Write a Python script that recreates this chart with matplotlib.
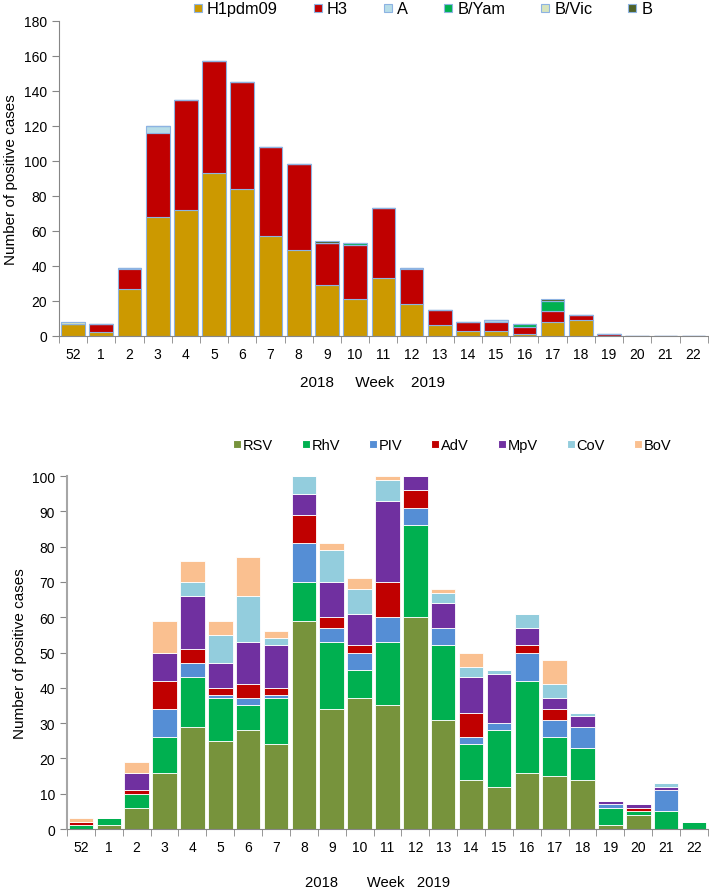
import matplotlib
matplotlib.use("Agg")
import matplotlib.pyplot as plt
import numpy as np
from matplotlib.lines import Line2D

weeks = ["52", "1", "2", "3", "4", "5", "6", "7", "8", "9", "10", "11",
         "12", "13", "14", "15", "16", "17", "18", "19", "20", "21", "22"]

# Influenza (top)
flu_names = ["H1pdm09", "H3", "A", "B/Yam", "B/Vic", "B"]
h1pdm09 = [7, 2, 27, 68, 72, 93, 84, 57, 49, 29, 21, 33, 18, 6, 3, 3, 1, 8, 9, 0, 0, 0, 0]
h3      = [0, 5, 11, 48, 63, 64, 61, 51, 49, 24, 31, 40, 20, 9, 5, 5, 4, 6, 3, 1, 0, 0, 0]
flu_a   = [0, 0, 1, 4, 0, 0, 0, 0, 0, 0, 0, 0, 1, 0, 0, 1, 0, 0, 0, 0, 0, 0, 0]
b_yam   = [0, 0, 0, 0, 0, 0, 0, 0, 0, 0, 1, 0, 0, 0, 0, 0, 2, 6, 0, 0, 0, 0, 0]
b_vic   = [1, 0, 0, 0, 0, 0, 0, 0, 0, 0, 0, 0, 0, 0, 0, 0, 0, 0, 0, 0, 0, 0, 0]
b_unk   = [0, 0, 0, 0, 0, 0, 0, 0, 0, 1, 0, 0, 0, 0, 0, 0, 0, 1, 0, 0, 0, 0, 0]
flu_colors = ["#cc9900", "#c00000", "#b7dde8", "#00b050", "#d7e4bd", "#4f6228"]

# Other respiratory viruses (bottom)
vir_names = ["RSV", "RhV", "PIV", "AdV", "MpV", "CoV", "BoV"]
rsv = [0, 1, 6, 16, 29, 25, 28, 24, 59, 34, 37, 35, 60, 31, 14, 12, 16, 15, 14, 1, 4, 0, 0]
rhv = [1, 2, 4, 10, 14, 12, 7, 13, 11, 19, 8, 18, 26, 21, 10, 16, 26, 11, 9, 5, 1, 5, 2]
piv = [0, 0, 0, 8, 4, 1, 2, 1, 11, 4, 5, 7, 5, 5, 2, 2, 8, 5, 6, 1, 0, 6, 0]
adv = [1, 0, 1, 8, 4, 2, 4, 2, 8, 3, 2, 10, 5, 0, 7, 0, 2, 3, 0, 0, 1, 0, 0]
mpv = [0, 0, 5, 8, 15, 7, 12, 12, 6, 10, 9, 23, 4, 7, 10, 14, 5, 3, 3, 1, 1, 1, 0]
cov = [0, 0, 0, 0, 4, 8, 13, 2, 5, 9, 7, 6, 0, 3, 3, 1, 4, 4, 1, 0, 0, 1, 0]
bov = [1, 0, 3, 9, 6, 4, 11, 2, 0, 2, 3, 1, 0, 1, 4, 0, 0, 7, 0, 0, 0, 0, 0]
vir_colors = ["#77933c", "#00b050", "#558ed5", "#c00000", "#7030a0", "#93cddd", "#fac090"]

plt.rcParams['font.family'] = ['Liberation Sans', 'DejaVu Sans']

fig = plt.figure(figsize=(7.09, 8.95), dpi=100)

def style_axes(ax, ymax, ystep, xlabel, lx, ly, lfs):
    n = len(weeks)
    x = np.arange(n)
    ax.set_xlim(-0.5, n - 0.5)
    ax.set_ylim(0, ymax)
    ax.set_yticks(np.arange(0, ymax + 1, ystep))
    ax.set_xticks(x)
    ax.set_xticklabels(weeks, fontsize=10)
    ax.set_xticks(np.arange(-0.5, n, 1.0), minor=True)
    ax.tick_params(axis='x', which='major', length=0, pad=8)
    ax.tick_params(axis='x', which='minor', length=5, color='#868686', direction='out')
    ax.tick_params(axis='y', length=5, color='#868686', labelsize=10, direction='out')
    for s in ['top', 'right']:
        ax.spines[s].set_visible(False)
    for s in ['left', 'bottom']:
        ax.spines[s].set_color('#868686')
    ax.set_ylabel("Number of positive cases", fontsize=11)
    ax.set_xlabel(xlabel, fontsize=lfs)
    ax.xaxis.label.set_va('center')
    ax.xaxis.set_label_coords(lx, ly)

def square_handles(colors, edge, ms):
    return [Line2D([], [], linestyle='', marker='s', markersize=ms,
                   markerfacecolor=c, markeredgecolor=edge, markeredgewidth=0.8)
            for c in colors]

# Top chart
ax1 = fig.add_axes([0.0832, 0.6235, 0.915, 0.352])
x = np.arange(len(weeks))
bottom = np.zeros(len(weeks))
for name, vals, col in zip(flu_names, [h1pdm09, h3, flu_a, b_yam, b_vic, b_unk], flu_colors):
    v = np.array(vals, dtype=float)
    ax1.bar(x, v, bottom=bottom, width=0.84, color=col, edgecolor='#8db3e2', linewidth=0.8)
    bottom += v
style_axes(ax1, 180, 20, "2018     Week    2019", 0.484, -0.146, 11)
fig.legend(square_handles(flu_colors, '#8db3e2', 5.2), flu_names, loc='center',
           bbox_to_anchor=(0.597, 0.989), ncol=6,
           frameon=False, fontsize=11.8, handlelength=0.45,
           handletextpad=0.35, columnspacing=2.2, borderpad=0.1)

# Bottom chart
ax2 = fig.add_axes([0.0945, 0.0726, 0.904, 0.3944])
bottom = np.zeros(len(weeks))
for name, vals, col in zip(vir_names, [rsv, rhv, piv, adv, mpv, cov, bov], vir_colors):
    v = np.array(vals, dtype=float)
    ax2.bar(x, v, bottom=bottom, width=0.88, color=col, edgecolor='white', linewidth=0.6)
    bottom += v
style_axes(ax2, 100, 10, "2018       Week   2019", 0.4844, -0.150, 10.6)
ax2.spines['left'].set_color('#a6a6a6')
ax2.spines['left'].set_linewidth(1.5)
fig.legend(square_handles(vir_colors, 'white', 5.4), vir_names, loc='center',
           bbox_to_anchor=(0.638, 0.5017), ncol=7,
           frameon=False, fontsize=10.5, handlelength=0.5,
           handletextpad=0.15, columnspacing=2.0, borderpad=0.1)

fig.savefig("out.png", dpi=100)
